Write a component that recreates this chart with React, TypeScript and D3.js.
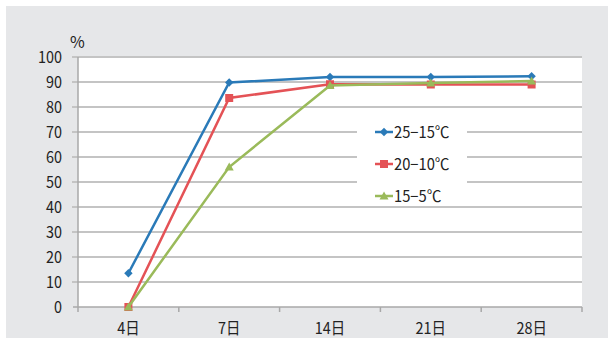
import React from "react";
import * as d3 from "d3";

const categories = ["4日", "7日", "14日", "21日", "28日"];
const yTicks = [0, 10, 20, 30, 40, 50, 60, 70, 80, 90, 100];
const seriesNames = ["25−15℃", "20−10℃", "15−5℃"];
const warm = [13.5, 89.8, 92, 92, 92.3];
const mid = [0, 83.6, 89.1, 89, 89];
const cool = [0, 56, 88.6, 89.6, 90.4];
const colors = ["#2a7ab8", "#e45256", "#9aba5a"];

const W = 609;
const H = 338;
const left = 78;
const right = 582;
const top = 57;
const bottom = 307;
const FONT = "'Noto Sans CJK JP', 'Noto Sans', sans-serif";

function Marker({ kind, x, y, color }: { kind: number; x: number; y: number; color: string }) {
  if (kind === 0) {
    const s = 4.2;
    return <path d={`M${x},${y - s}L${x + s},${y}L${x},${y + s}L${x - s},${y}Z`} fill={color} />;
  }
  if (kind === 1) {
    return <rect x={x - 4} y={y - 4} width={8} height={8} fill={color} />;
  }
  const s = 4.5;
  return <path d={`M${x},${y - s}L${x + s},${y + s * 0.8}L${x - s},${y + s * 0.8}Z`} fill={color} />;
}

// horizontally condensed text anchored at ax
function Narrow({ ax, sx, children, ...rest }: any) {
  return (
    <text x={ax} transform={`translate(${ax},0) scale(${sx},1) translate(${-ax},0)`} {...rest}>
      {children}
    </text>
  );
}

export default function App() {
  const x = d3.scaleBand<string>().domain(categories).range([left, right]);
  const y = d3.scaleLinear().domain([0, 100]).range([bottom, top]);
  const series = [warm, mid, cool];
  const line = d3
    .line<number>()
    .x((_, i) => (x(categories[i]) as number) + x.bandwidth() / 2)
    .y((d) => y(d));

  const boundaries = categories.map((c) => x(c) as number).concat([right]);
  const legendY = [132, 164, 196];

  return (
    <svg
      width={W}
      height={H}
      style={{ position: "absolute", left: 0, top: 0, fontFamily: FONT }}
    >
      <rect x={0} y={0} width={W} height={H} fill="#ffffff" />
      <rect x={6} y={6} width={602} height={H - 6} fill="#e6e7e9" />
      <rect x={left} y={top} width={right - left} height={bottom - top} fill="#ffffff" />

      {yTicks.map((t) => (
        <g key={t}>
          <line
            x1={t === 0 ? left - 5 : left - 6}
            x2={right}
            y1={y(t)}
            y2={y(t)}
            stroke={t === 0 ? "#a8a8a8" : "#c4c4c4"}
            strokeWidth={t === 0 ? 1.5 : 2}
          />
          <Narrow ax={62} sx={0.9} y={y(t)} dy="0.36em" textAnchor="end" fontSize={16} fill="#222">
            {t}
          </Narrow>
        </g>
      ))}

      <line x1={left} x2={left} y1={top} y2={bottom} stroke="#a8a8a8" strokeWidth={1.5} />
      {boundaries.map((b, i) => (
        <line key={i} x1={b} x2={b} y1={bottom} y2={bottom + 5} stroke="#a8a8a8" strokeWidth={1.5} />
      ))}

      {categories.map((c) => {
        const cx = (x(c) as number) + x.bandwidth() / 2;
        return (
          <Narrow key={c} ax={cx} sx={0.9} y={334} textAnchor="middle" fontSize={16} fill="#222">
            {c}
          </Narrow>
        );
      })}

      <text x={70} y={48} fontSize={16} fill="#222">%</text>

      {/* legend panel */}
      <rect x={357} y={116} width={110} height={86} fill="#ffffff" />

      {series.map((vals, si) => (
        <g key={si}>
          <path d={line(vals) as string} fill="none" stroke={colors[si]} strokeWidth={2.5} />
          {vals.map((v, i) => (
            <Marker
              key={i}
              kind={si}
              x={(x(categories[i]) as number) + x.bandwidth() / 2}
              y={y(v)}
              color={colors[si]}
            />
          ))}
        </g>
      ))}

      {seriesNames.map((name, si) => (
        <g key={name}>
          <line x1={375} x2={393} y1={legendY[si]} y2={legendY[si]} stroke={colors[si]} strokeWidth={2.5} />
          <Marker kind={si} x={384} y={legendY[si]} color={colors[si]} />
          <Narrow ax={394} sx={0.92} y={legendY[si]} dy="0.36em" fontSize={16} fill="#222">
            {name}
          </Narrow>
        </g>
      ))}
    </svg>
  );
}
